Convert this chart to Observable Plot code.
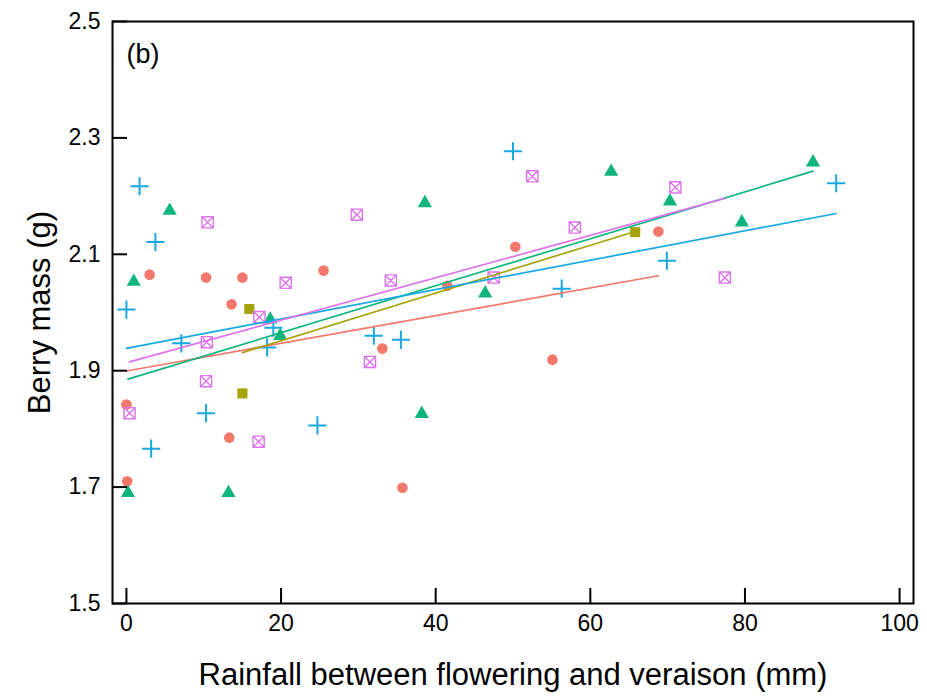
<!DOCTYPE html>
<html>
<head>
<meta charset="utf-8">
<script src="https://cdn.jsdelivr.net/npm/d3@7"></script>
<script src="https://cdn.jsdelivr.net/npm/@observablehq/plot@0.6"></script>
<style>
  html, body { margin: 0; padding: 0; background: #fff; }
  #chart svg { display: block; }
</style>
</head>
<body>
<div id="chart"></div>
<script>
// Berry mass against rainfall between flowering and veraison, five groups,
// each with its own least-squares line.

const groups = ["A", "B", "C", "D", "E"];

// Rainfall (mm) and berry mass (g) for each group
const rainA = [0, 0.1, 3, 10.3, 13.6, 15.0, 13.3, 25.5, 33.1, 35.7, 41.5, 50.3, 55.1, 68.8];
const massA = [1.842, 1.710, 2.065, 2.060, 2.014, 2.060, 1.785, 2.072, 1.938, 1.699, 2.046, 2.113, 1.919, 2.139];

const rainB = [15.9, 15.0, 65.8];
const massB = [2.006, 1.861, 2.138];

const rainC = [0.2, 13.2, 0.95, 5.6, 18.6, 19.9, 38.6, 38.2, 46.4, 62.7, 70.3, 79.6, 88.8];
const massC = [1.690, 1.690, 2.053, 2.175, 1.988, 1.960, 2.188, 1.826, 2.033, 2.242, 2.191, 2.155, 2.258];

const rainD = [0, 1.7, 3.75, 3.2, 7.1, 10.3, 18.2, 19.0, 24.7, 32.0, 35.5, 50.0, 56.3, 69.9, 91.8];
const massD = [2.005, 2.217, 2.121, 1.766, 1.947, 1.827, 1.940, 1.974, 1.806, 1.960, 1.953, 2.277, 2.041, 2.089, 2.222];

const rainE = [0.4, 10.5, 10.4, 10.3, 17.1, 17.2, 20.6, 29.8, 34.2, 31.5, 47.5, 52.5, 58.0, 71.0, 77.4];
const massE = [1.827, 2.155, 1.949, 1.882, 1.778, 1.992, 2.051, 2.168, 2.055, 1.915, 2.060, 2.234, 2.146, 2.215, 2.060];

const xTicks = [0, 20, 40, 60, 80, 100];
const yTicks = [1.5, 1.7, 1.9, 2.1, 2.3, 2.5];

const xTitle = "Rainfall between flowering and veraison (mm)";
const yTitle = "Berry mass (g)";
const panelTag = "(b)";

const rainByGroup = [rainA, rainB, rainC, rainD, rainE];
const massByGroup = [massA, massB, massC, massD, massE];

// Long table built from the arrays above
const rows = groups.flatMap((g, i) =>
  rainByGroup[i].map((r, j) => ({group: g, rain: r, mass: massByGroup[i][j]}))
);

// Square with a diagonal cross
const crossedSquare = {
  draw(context, size) {
    const s = Math.sqrt(size) / 2;
    context.moveTo(-s, -s);
    context.lineTo(s, -s);
    context.lineTo(s, s);
    context.lineTo(-s, s);
    context.closePath();
    context.moveTo(-s, -s);
    context.lineTo(s, s);
    context.moveTo(s, -s);
    context.lineTo(-s, s);
  }
};

const look = {
  A: {color: "#F2786C", symbol: "circle", r: 5.3, filled: true},
  B: {color: "#A6A40C", symbol: "square", r: 5.7, filled: true},
  C: {color: "#10B57D", symbol: "triangle", r: 5.3, filled: true},
  D: {color: "#18A8E2", symbol: "plus", r: 5.9, filled: false, sw: 2},
  E: {color: "#DC74EC", symbol: crossedSquare, r: 6.3, filled: false, sw: 1.4}
};

const dotMarks = groups.map(g => {
  const s = look[g];
  const data = rows.filter(d => d.group === g);
  return s.filled
    ? Plot.dot(data, {x: "rain", y: "mass", symbol: s.symbol, r: s.r, fill: s.color, stroke: "none"})
    : Plot.dot(data, {x: "rain", y: "mass", symbol: s.symbol, r: s.r, fill: "none", stroke: s.color, strokeWidth: s.sw});
});

const fitMarks = groups.map(g =>
  Plot.linearRegressionY(rows.filter(d => d.group === g), {
    x: "rain", y: "mass", stroke: look[g].color, strokeWidth: 1.7, ci: 0
  })
);

// Frame geometry
const W = 927, H = 696, ML = 112, MR = 14, MT = 21, MB = 93;
const xDomain = [-1.8, 101.8];
const yDomain = [1.5, 2.5];

// Inward tick length, converted to data units along each axis
const tickLen = 15;
const xTickSpan = tickLen * (xDomain[1] - xDomain[0]) / (W - ML - MR);
const yTickSpan = tickLen * (yDomain[1] - yDomain[0]) / (H - MT - MB);

const chart = Plot.plot({
  width: W,
  height: H,
  marginLeft: ML,
  marginRight: MR,
  marginTop: MT,
  marginBottom: MB,
  style: {fontFamily: "'Liberation Sans', Arial, sans-serif", background: "#fff", color: "#000"},
  x: {domain: xDomain},
  y: {domain: yDomain},
  marks: [
    ...dotMarks,
    ...fitMarks,
    // tick marks pointing into the panel
    Plot.ruleY(yTicks, {y: d => d, x1: xDomain[0], x2: xDomain[0] + xTickSpan, stroke: "#000", strokeWidth: 2}),
    Plot.ruleX(xTicks, {x: d => d, y1: yDomain[0], y2: yDomain[0] + yTickSpan, stroke: "#000", strokeWidth: 2}),
    // tick labels
    Plot.axisX({ticks: xTicks, tickSize: 0, tickPadding: 11, fontSize: 23, label: null, tickFormat: d3.format("d")}),
    Plot.axisY({ticks: yTicks, tickSize: 0, tickPadding: 12, fontSize: 23, label: null, tickFormat: d3.format(".1f")}),
    Plot.frame({stroke: "#000", strokeWidth: 2}),
    Plot.text([yTitle], {text: d => d, frameAnchor: "left", dx: -72, rotate: -90, textAnchor: "middle", lineAnchor: "middle", fontSize: 31, fill: "#000"}),
    Plot.text([xTitle], {text: d => d, frameAnchor: "bottom", dy: 72, textAnchor: "middle", lineAnchor: "middle", fontSize: 31, fill: "#000"}),
    Plot.text([panelTag], {text: d => d, frameAnchor: "top-left", dx: 14, dy: 33, textAnchor: "start", lineAnchor: "middle", fontSize: 27, fill: "#000"})
  ]
});

document.getElementById("chart").appendChild(chart);
</script>
</body>
</html>
